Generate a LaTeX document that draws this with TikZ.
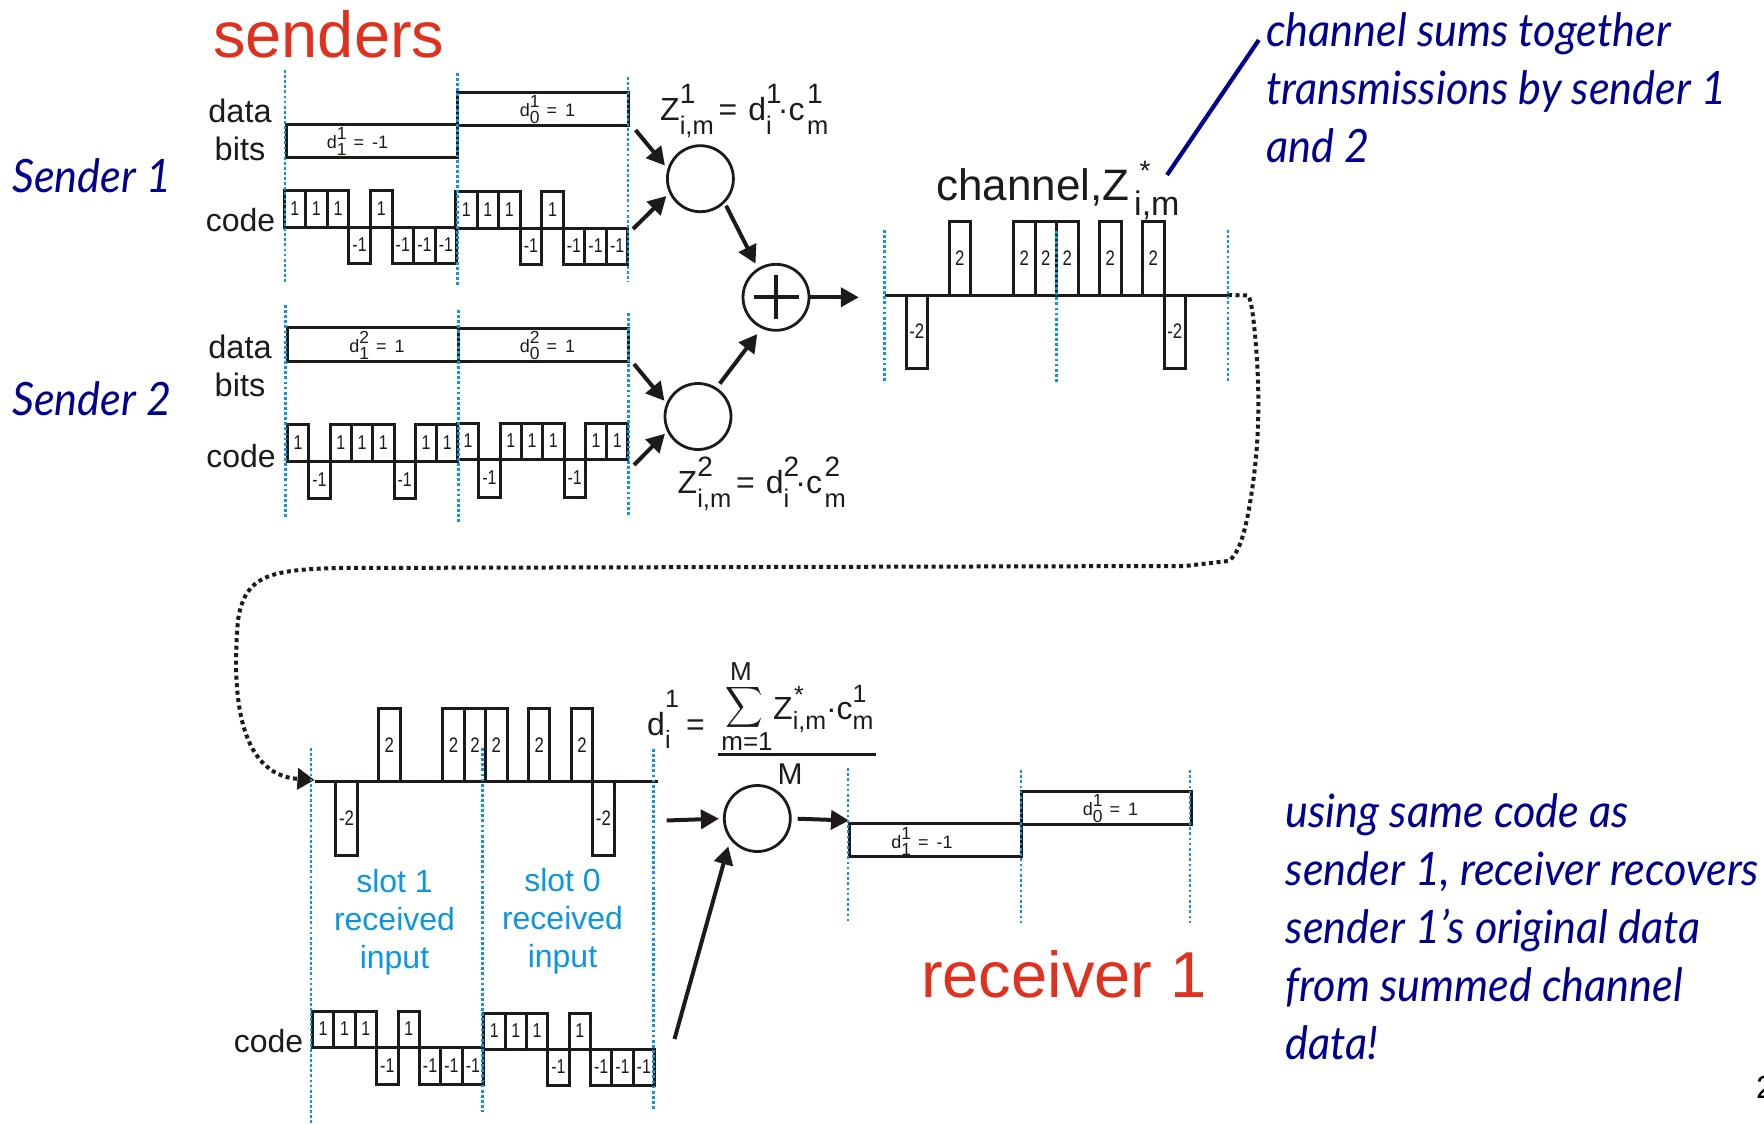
\documentclass[tikz,border=0pt]{standalone}
\usepackage{fontspec}
\setmainfont{Liberation Sans}
\newfontfamily\bluefont[FakeStretch=0.94]{Lato}
\newfontfamily\narrowf[FakeStretch=0.8]{Liberation Sans}
\usetikzlibrary{arrows.meta,calc}
\definecolor{ink}{HTML}{1E1A18}
\definecolor{navy}{HTML}{000090}
\definecolor{sky}{HTML}{0A96E0}
\definecolor{brick}{HTML}{E0301E}
\newcommand\fs[1]{\fontsize{#1}{#1}\selectfont}
\newcommand\ssset[4]{\def\ssS{#1}\def\ssB{#2}\def\ssU{#3}\def\ssD{#4}}
\newcommand\ssc[2]{\hbox{\rlap{\fs{\ssS}\raisebox{\ssU}{#1}}\fs{\ssB}\raisebox{-\ssD}{#2}}}
\tikzset{
  x=1pt,y=-1pt,
  txt/.style={inner sep=0pt,text=ink,anchor=base},
  txtw/.style={inner sep=0pt,text=ink,anchor=base west},
  bluetxt/.style={inner sep=0pt,text=navy,anchor=base west,font=\bluefont\itshape\fs{46}},
  blueblock/.style={inner sep=0pt,text=navy,anchor=north west,align=left,font=\bluefont\itshape\fontsize{46}{58.2}\selectfont},
  slotlab/.style={inner sep=0pt,text=sky,anchor=north,align=center,font=\fontsize{32}{38}\selectfont},
  stack/.style={inner sep=0pt,text=ink,anchor=north,align=center,font=\fontsize{32.5}{38}\selectfont},
  chip/.style={draw=ink,line width=3pt,line join=miter},
  chan/.style={draw=ink,line width=3pt},
  bitbox/.style={draw=ink,line width=3pt},
  chiplab/.style={inner sep=0pt,text=ink},
  tick/.style={draw=sky,line width=2.8pt,dash pattern=on 2.8pt off 2.3pt},
  tickthin/.style={draw=sky,line width=2.2pt,dash pattern=on 2.6pt off 2.6pt},
  arr/.style={draw=ink,line width=4pt,-{Triangle[length=18pt,width=19pt]}},
  opnode/.style={circle,draw=ink,line width=2.8pt,minimum size=66pt,inner sep=0pt},
}
\newcommand\wave[9]{%
  \foreach \v [count=\n from 0] in {#8}{%
    \ifnum\v=0\relax\else
      \pgfmathsetmacro\xa{#2+\n*#3}\pgfmathsetmacro\xb{\xa+#3}%
      \ifnum\v>0 \def\yt{#5}\else\def\yt{#6}\fi
      \draw[#7] (\xa,#4) rectangle (\xb,\yt);
      \node[chiplab,font=\narrowf\fs{#9}] (#1\n) at ({(\xa+\xb)/2},{(#4+\yt)/2}) {\v};
    \fi
  }%
}
\newcommand\dform[2]{\ssset{17.5}{17.5}{8.5pt}{7pt}d\ssc{#1}{#2}\kern7pt=\kern8pt}
\newcommand\zform[1]{\ssset{28}{25.5}{16.5pt}{14.5pt}Z\ssc{#1}{i,m}\kern5pt=\kern11pt d\ssc{#1}{i}\kern6pt·c\kern2.5pt\ssc{#1}{m}}
\begin{document}
\begin{tikzpicture}
\useasboundingbox (0,0) rectangle (1764,1124);
% titles
\node[txtw,text=brick,font=\fs{65}] (senders) at (213,58) {senders};
\node[txtw,text=brick,font=\fs{65}] (receiver) at (921,997) {receiver 1};
\node[bluetxt] (s1) at (12,192) {Sender 1};
\node[bluetxt] (s2) at (12,415) {Sender 2};
% sender 1
\node[stack] (db1) at (240,98.5) {data\\bits};
\node[txt,font=\fs{32}] (code1) at (240.5,231) {code};
\draw[bitbox] (286,124) rectangle (457.5,157);
\draw[bitbox] (457.5,92) rectangle (628,125);
\node[txt,font=\fs{18}] (d11) at (357.5,148) {\dform{1}{1}-1};
\node[txt,font=\fs{18}] (d10) at (547.5,116) {\dform{1}{0}1};
\wave{a}{284}{21.6}{227}{190}{263}{chip}{1,1,1,-1,1,-1,-1,-1}{20}
\wave{b}{455.5}{21.55}{228}{191}{264}{chip}{1,1,1,-1,1,-1,-1,-1}{20}
% sender 2
\node[stack] (db2) at (240,334.5) {data\\bits};
\node[txt,font=\fs{32}] (code2) at (241,467) {code};
\draw[bitbox] (287,327) rectangle (458,361);
\draw[bitbox] (458,328) rectangle (628.5,361);
\node[txt,font=\fs{18}] (d21) at (377,352) {\dform{2}{1}1};
\node[txt,font=\fs{18}] (d20) at (547.5,352) {\dform{2}{0}1};
\wave{c}{287.5}{21.3}{461}{424}{498}{chip}{1,-1,1,1,1,-1,1,1}{20}
\wave{d}{457.5}{21.3}{459}{423}{497}{chip}{1,-1,1,1,1,-1,1,1}{20}
% encoders
\node[opnode] (enc1) at (700.4,178.7) {};
\node[opnode] (enc2) at (698,416.5) {};
\node[opnode] (sum) at (776,297.3) {};
\draw[ink,line width=4pt] ($(sum.center)+(-22.5,0)$) -- ($(sum.center)+(22.5,0)$);
\draw[ink,line width=4pt] ($(sum.center)+(0,-22)$) -- ($(sum.center)+(0,22)$);
\node[txtw,font=\fs{32}] (z1) at (660,120) {\zform{1}};
\node[txtw,font=\fs{32}] (z2) at (677.5,493) {\zform{2}};
\coordinate (i1) at (635.5,130);
\coordinate (i2) at (633,229);
\coordinate (i3) at (634,364);
\coordinate (i4) at (634,465);
\coordinate (outsum) at (858.8,297.3);
\draw[arr,shorten >=4pt] (i1) -- (enc1.163);
\draw[arr,shorten >=4pt] (i2) -- (enc1.205);
\draw[arr,shorten >=3pt] (i3) -- (enc2.157);
\draw[arr,shorten >=3pt] (i4) -- (enc2.206);
\draw[arr,shorten <=3pt,shorten >=5pt] (enc1.-45) -- (sum.122);
\draw[arr,shorten <=5pt,shorten >=7pt] (enc2.57) -- (sum.245);
\draw[arr] (sum.east) -- (outsum);
% channel
\node[txtw,font=\fs{44}] (chlab) at (936,200) {channel,Z};
\node[txtw,font=\fs{34}] (chsub) at (1134,215) {i,m};
\node[txt,font=\fs{28}] (chstar) at (1145,180) {*};
\draw[chan] (884.5,295) -- (1228,295);
\wave{e}{884.5}{21.5}{295}{221}{368}{chan}{0,-2,0,2,0,0,2,2,2,0,2,0,2,-2,0,0}{21}
\coordinate (bl1) at (1167,175);
\coordinate (bl2) at (1258.8,40);
\draw[navy,line width=4.2pt] (bl1) -- (bl2);
\node[blueblock] (top) at (1266,12) {channel sums together\\transmissions by sender 1\\and 2};
% dotted link
\coordinate (chout) at (1228,295);
\coordinate (rxin) at (314.5,780);
\draw[ink,line width=4pt,dash pattern=on 4pt off 3.5pt,-{Triangle[length=17pt,width=21pt]}]
 (chout) -- (1248,295.5) .. controls (1252,300) and (1255,330) .. (1257,360)
 .. controls (1260,410) and (1258,450) .. (1252,490)
 .. controls (1247,525) and (1240,555) .. (1228,561)
 -- (1185,566) -- (337,568) .. controls (270,570) and (245,575) .. (238,620)
 .. controls (232,690) and (237,775) .. (rxin);
% receiver waveform
\draw[chan] (314.5,781.5) -- (658,781.5);
\wave{f}{314.5}{21.4}{781.5}{708}{855.5}{chan}{0,-2,0,2,0,0,2,2,2,0,2,0,2,-2,0,0}{21}
\node[slotlab] (slot1) at (394.5,869) {slot 1\\received\\input};
\node[slotlab] (slot0) at (562.5,868) {slot 0\\received\\input};
% receiver code
\node[txt,font=\fs{32}] (code3) at (268.6,1052) {code};
\wave{g}{312.4}{21.4}{1047}{1011}{1084}{chip}{1,1,1,-1,1,-1,-1,-1}{20}
\wave{h}{483.7}{21.35}{1049}{1013}{1085}{chip}{1,1,1,-1,1,-1,-1,-1}{20}
% decode formula
\node[txtw,font=\fs{32}] (fd) at (647,735) {\ssset{25}{25}{28pt}{5pt}d\ssc{1}{\raisebox{-8pt}{i}}};
\node[txt,font=\fs{32}] (feq) at (695.5,735) {=};
\node[inner sep=0pt,xscale=2.6,yscale=2.85,text=ink] (sigma) at (744,707) {$\displaystyle\sum$};
\node[txt,font=\fs{26}] (fM) at (741,680) {M};
\node[txt,font=\fs{26}] (fm1) at (747,750) {m=1};
\node[txtw,font=\fs{32}] (fz) at (773,719) {\ssset{25}{25}{17pt}{10pt}Z\ssc{}{i,m}·c\ssc{1}{m}};
\node[txt,font=\fs{25}] (fstar) at (799,703) {*};
\coordinate (fr1) at (718,754.7);
\coordinate (fr2) at (876,754.7);
\draw[ink,line width=2.8pt] (fr1) -- (fr2);
\node[txt,font=\fs{30}] (fden) at (790,784) {M};
% decoder
\node[opnode] (dec) at (757.3,818.5) {};
\coordinate (din) at (666.7,820.5);
\coordinate (dout) at (849,820.5);
\coordinate (dcode) at (674.5,1039);
\draw[arr,shorten >=4pt] (din) -- (dec.west);
\draw[arr,shorten <=6pt] (dec.east) -- (dout);
\draw[arr,shorten >=7pt] (dcode) -- (dec.218);
% recovered bits
\draw[bitbox] (849,823) rectangle (1021,856);
\draw[bitbox] (1021,791) rectangle (1191,824);
\node[txt,font=\fs{18}] (r1) at (922,848) {\dform{1}{1}-1};
\node[txt,font=\fs{18}] (r0) at (1110.5,815) {\dform{1}{0}1};
\node[blueblock] (bottom) at (1285.5,793) {using same code as\\sender 1, receiver recovers\\sender 1’s original data\\from summed channel\\data!};
\node[txtw,font=\fs{32},text=black] (page) at (1756,1098) {2};
% timing marks
\foreach \xx/\ya/\yb in {285/70/283,457.5/73/287,628/77/282,285.3/305/519,458.4/310/523,628.8/313/517,884.5/230/383,1056.7/231/383,1228/230/383,311/748/1124,482.4/748/1112,653.6/749/1110}
  \draw[tick] (\xx,\ya) -- (\xx,\yb);
\foreach \xx/\ya/\yb in {848/768/922,1021/770/924,1189.7/770/924}
  \draw[tickthin] (\xx,\ya) -- (\xx,\yb);
\end{tikzpicture}
\end{document}
